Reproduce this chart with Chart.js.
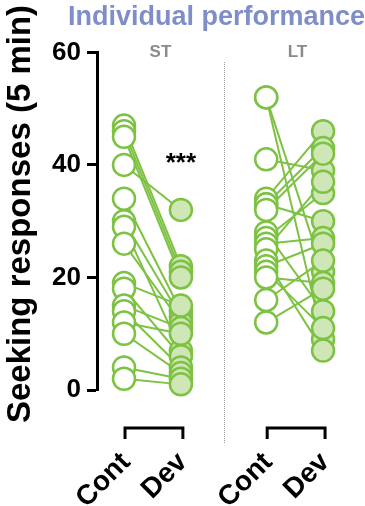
<!DOCTYPE html>
<html>
<head>
<meta charset="utf-8">
<script src="https://cdn.jsdelivr.net/npm/chart.js@4.4.1/dist/chart.umd.min.js"></script>
<style>
  html, body { margin: 0; padding: 0; background: #ffffff; }
  #wrap { width: 365px; height: 506px; }
</style>
</head>
<body>
<div id="wrap"><canvas id="c" width="365" height="506"></canvas></div>
<script>
// ---- data ----
const groups = ['ST', 'LT'];
const conditions = ['Cont', 'Dev'];
const stCont = [47, 46, 45, 40, 34, 30, 29, 26, 19, 18, 15, 14, 12, 10, 4, 2];
const stDev  = [22, 21, 20, 32, 14, 13, 7, 12, 15, 6, 11, 4, 10, 3, 2, 1];
const ltCont = [52, 52, 41, 34, 33, 33, 32, 28, 27, 26, 25, 23, 22, 21, 20, 16, 12];
const ltDev  = [21, 9, 39, 46, 43, 30, 42, 14, 35, 27, 37, 7, 26, 11, 19, 23, 18];
const yTicks = [0, 20, 40, 60];
const titleText = 'Individual performance';
const yTitle = 'Seeking responses (5 min)';
const signif = '***';

// x positions of the four columns
const xPos = { ST: [1, 2], LT: [3.5, 4.5] };

const GREEN = '#7dc242';
const FILL = '#cfe6b7';
const FONT = "'Liberation Sans', Arial, Helvetica, sans-serif";

Chart.defaults.font.family = FONT;

const datasets = [];
function addGroup(g, cont, dev) {
  const [xc, xd] = xPos[g];
  cont.forEach((v, i) => {
    datasets.push({
      type: 'line',
      data: [{x: xc, y: v}, {x: xd, y: dev[i]}],
      borderColor: GREEN, borderWidth: 2, pointRadius: 0,
      fill: false, order: 3, clip: false
    });
  });
  datasets.push({
    type: 'scatter',
    data: cont.map(v => ({x: xc, y: v})),
    pointRadius: 11, pointBackgroundColor: '#ffffff',
    pointBorderColor: GREEN, pointBorderWidth: 2.5, order: 2, clip: false
  });
  datasets.push({
    type: 'scatter',
    data: dev.map(v => ({x: xd, y: v})),
    pointRadius: 11, pointBackgroundColor: FILL,
    pointBorderColor: GREEN, pointBorderWidth: 2.5, order: 1, clip: false
  });
}
addGroup('ST', stCont, stDev);
addGroup('LT', ltCont, ltDev);

const tickLabelMap = {};
groups.forEach(g => { tickLabelMap[xPos[g][0]] = conditions[0]; tickLabelMap[xPos[g][1]] = conditions[1]; });

const decor = {
  id: 'decor',
  afterDraw(chart) {
    const ctx = chart.ctx;
    const xs = chart.scales.x, ys = chart.scales.y;
    ctx.save();
    // separator
    const sx = Math.round(xs.getPixelForValue((xPos.ST[1] + xPos.LT[0]) / 2)) + 0.5;
    ctx.strokeStyle = '#9a9a9a';
    ctx.lineWidth = 1;
    ctx.setLineDash([1, 1]);
    ctx.beginPath();
    ctx.moveTo(sx, 62);
    ctx.lineTo(sx, 443);
    ctx.stroke();
    ctx.setLineDash([]);
    // brackets
    ctx.strokeStyle = '#000';
    ctx.lineWidth = 3;
    ctx.lineJoin = 'miter';
    groups.forEach(g => {
      const x1 = xs.getPixelForValue(xPos[g][0]);
      const x2 = xs.getPixelForValue(xPos[g][1]);
      ctx.beginPath();
      ctx.moveTo(x1 + 1, 439);
      ctx.lineTo(x1 + 1, 428);
      ctx.lineTo(x2 + 2, 428);
      ctx.lineTo(x2 + 2, 439);
      ctx.stroke();
    });
    // group labels
    ctx.fillStyle = '#8a8a8a';
    ctx.font = 'bold 17px ' + FONT;
    ctx.textAlign = 'center';
    ctx.textBaseline = 'middle';
    ctx.fillText(groups[0], xs.getPixelForValue(1.64), 52);
    ctx.fillText(groups[1], xs.getPixelForValue(4.05), 52);
    // significance
    ctx.fillStyle = '#000';
    ctx.font = 'bold 26px ' + FONT;
    ctx.fillText(signif, xs.getPixelForValue(xPos.ST[1]), ys.getPixelForValue(40) - 1);
    // y axis title
    ctx.save();
    ctx.translate(21, 214);
    ctx.rotate(-Math.PI / 2);
    ctx.font = 'bold 33px ' + FONT;
    ctx.fillStyle = '#000';
    ctx.textAlign = 'center';
    ctx.textBaseline = 'middle';
    ctx.fillText(yTitle, 0, 0);
    ctx.restore();
    ctx.restore();
  }
};

new Chart(document.getElementById('c'), {
  data: { datasets },
  options: {
    responsive: false,
    animation: false,
    events: [],
    layout: { padding: { left: 0, right: 0, top: 0, bottom: 0 } },
    plugins: {
      legend: { display: false },
      tooltip: { enabled: false },
      title: {
        display: true, text: titleText, align: 'end',
        color: '#7f8ec8',
        font: { size: 27, weight: 'bold', family: FONT },
        padding: { top: 1, bottom: 19 }
      }
    },
    scales: {
      x: {
        type: 'linear', min: 0.525, max: 5.0,
        grid: { display: false },
        border: { display: false },
        afterBuildTicks: (s) => { s.ticks = Object.keys(tickLabelMap).map(Number).sort((a,b)=>a-b).map(v => ({value: v})); },
        afterFit: (s) => { s.height = 116; s.paddingLeft = 0; s.paddingRight = 0; },
        ticks: {
          autoSkip: false, minRotation: 45, maxRotation: 45,
          color: '#000', padding: 48, labelOffset: 2,
          font: { size: 28, weight: 'bold', family: FONT },
          callback: (v) => tickLabelMap[v] || ''
        }
      },
      y: {
        min: 0, max: 60,
        afterBuildTicks: (s) => { s.ticks = yTicks.map(v => ({value: v})); },
        afterFit: (s) => { s.width = 97; s.paddingTop = 0; s.paddingBottom = 0; },
        grid: { drawOnChartArea: false, drawTicks: true, tickLength: 10, tickWidth: 3, tickColor: '#000' },
        border: { display: true, color: '#000', width: 3 },
        ticks: { color: '#000', padding: 6, font: { size: 26, weight: 'bold', family: FONT } },
        title: { display: false }
      }
    }
  },
  plugins: [decor]
});
</script>
</body>
</html>
